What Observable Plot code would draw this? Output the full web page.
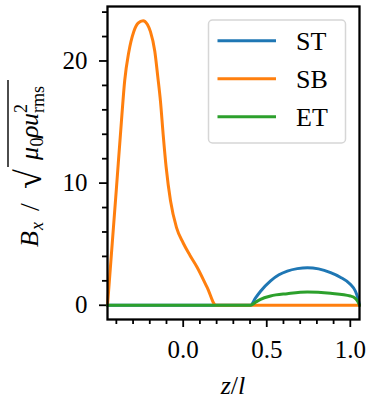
<!DOCTYPE html>
<html><head><meta charset="utf-8">
<script src="https://cdn.jsdelivr.net/npm/d3@7"></script>
<script src="https://cdn.jsdelivr.net/npm/@observablehq/plot@0.6"></script>
</head><body style="margin:0;background:#fff;font-family:'Liberation Serif'">
<div id="chart" style="height:372px"></div>
<div style="height:28px;line-height:28px;font-size:26px;font-family:'Liberation Serif';text-align:center;width:369px;padding-left:97px;box-sizing:border-box;margin:0;color:#000"><i>z</i>/<i>l</i></div>
<script>
// ---- data ----
const seriesNames = ["ST", "SB", "ET"];
const seriesColors = ["#1f77b4", "#ff7f0e", "#2ca02c"];

const stZ = [-0.453, 0.0, 0.403, 0.433, 0.463, 0.523, 0.573, 0.623, 0.683, 0.743, 0.81, 0.882, 0.94, 1.0, 1.03, 1.045, 1.055];
const stB = [0, 0, 0, 0.6, 1.15, 2.0, 2.5, 2.8, 3.0, 3.08, 2.98, 2.67, 2.3, 1.72, 1.17, 0.6, 0];

const sbZ = [-0.453, -0.40, -0.37, -0.35, -0.326, -0.296, -0.27, -0.24, -0.215, -0.196, -0.17, -0.152, -0.136, -0.12, -0.102, -0.076, -0.04, 0.0, 0.04, 0.084, 0.144, 0.196, 0.4, 0.7, 1.055];
const sbB = [0, 9.5, 15.0, 18.4, 20.7, 22.4, 23.1, 23.3, 23.0, 22.4, 20.8, 18.7, 16.7, 14.0, 11.3, 8.55, 6.36, 5.1, 4.1, 3.1, 1.44, 0, 0, 0, 0];

const etZ = [-0.453, 0.0, 0.403, 0.433, 0.463, 0.523, 0.623, 0.743, 0.882, 1.0, 1.03, 1.045, 1.055];
const etB = [0, 0, 0, 0.25, 0.49, 0.76, 0.95, 1.09, 0.98, 0.76, 0.57, 0.3, 0];

const xMajorTicks = [0.0, 0.5, 1.0];
const xMinorTicks = [-0.4, -0.3, -0.2, -0.1, 0.1, 0.2, 0.3, 0.4, 0.6, 0.7, 0.8, 0.9];
const yMajorTicks = [0, 10, 20];
const yMinorTicks = [2, 4, 6, 8, 12, 14, 16, 18, 22, 24];

const rows = [];
function addSeries(name, zs, bs) { zs.forEach((z, i) => rows.push({series: name, z, b: bs[i]})); }
addSeries("ST", stZ, stB);
addSeries("SB", sbZ, sbB);
addSeries("ET", etZ, etB);

const FONT = "Liberation Serif";

const chart = Plot.plot({
  width: 369, height: 372,
  marginLeft: 107, marginRight: 10, marginTop: 6, marginBottom: 53,
  style: {fontFamily: FONT, fontSize: "25px", background: "white", color: "black", display: "block"},
  x: {domain: [-0.453, 1.055], label: null},
  y: {domain: [-1.165, 24.46], label: null},
  color: {domain: seriesNames, range: seriesColors},
  marks: [
    Plot.axisX(xMinorTicks, {tickSize: 5, text: null, strokeWidth: 1.8, label: null}),
    Plot.axisX(xMajorTicks, {tickSize: 8, tickPadding: 13, strokeWidth: 1.8, tickFormat: d3.format(".1f"), label: null, fontSize: 25}),
    Plot.axisY(yMinorTicks, {tickSize: 5, text: null, strokeWidth: 1.8, label: null}),
    Plot.axisY(yMajorTicks, {tickSize: 8, tickPadding: 12, strokeWidth: 1.8, tickFormat: d3.format("d"), label: null, fontSize: 25}),
    Plot.line(rows, {x: "z", y: "b", z: "series", stroke: "series", strokeWidth: 3, curve: "monotone-x"}),
    Plot.frame({stroke: "black", strokeWidth: 2.3})
  ]
});
document.getElementById("chart").appendChild(chart);

const svg = d3.select(chart);

// ---- legend ----
const lg = svg.append("g");
lg.append("rect").attr("x", 208.5).attr("y", 20).attr("width", 137).attr("height", 123)
  .attr("rx", 4).attr("fill", "white").attr("fill-opacity", 0.8)
  .attr("stroke", "#d6d6d6").attr("stroke-width", 1.5);
seriesNames.forEach((name, i) => {
  const yy = 40.7 + i * 38;
  lg.append("line").attr("x1", 217.5).attr("x2", 276).attr("y1", yy).attr("y2", yy)
    .attr("stroke", seriesColors[i]).attr("stroke-width", 3);
  lg.append("text").attr("x", 296).attr("y", yy + 9).attr("font-family", FONT)
    .attr("font-size", 26).attr("fill", "black").attr("text-anchor", "start").text(name);
});

// ---- y label (rotated; s = distance along the label from its start) ----
const yg = svg.append("g").attr("font-family", FONT).attr("fill", "black").attr("text-anchor", "start")
  .attr("transform", "translate(37.5, 247) rotate(-90)");
function piece(str, s, size, italic, dy) {
  yg.append("text").attr("x", s).attr("y", dy).attr("font-size", size)
    .attr("font-style", italic ? "italic" : "normal").text(str);
}
piece("B", 0, 26, true, 0);
piece("x", 17, 18, true, 5);
piece("/", 36, 28, false, 1);
piece("\u221A", 58, 36, false, 3);
piece("\u03BC", 87, 26, true, 0);
piece("0", 100.5, 18, false, 5);
piece("\u03C1", 109, 26, true, 0);
piece("u", 121, 26, true, 0);
piece("2", 134, 18, false, -11);
piece("rms", 134, 18, false, 6);
yg.append("line").attr("x1", 80).attr("x2", 167).attr("y1", -29.5).attr("y2", -29.5)
  .attr("stroke", "black").attr("stroke-width", 1.4);
</script>
</body></html>
